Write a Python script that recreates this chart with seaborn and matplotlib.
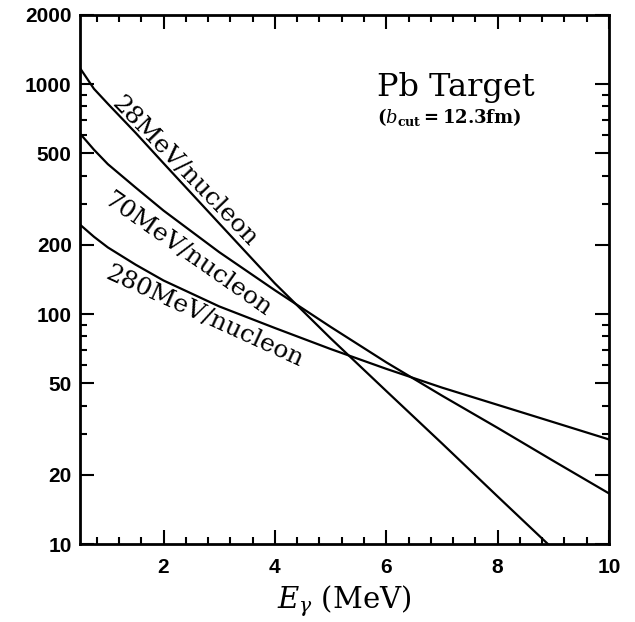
import numpy as np
import pandas as pd
import matplotlib
matplotlib.use("Agg")
import matplotlib.pyplot as plt
import matplotlib.ticker as mticker
import seaborn as sns

# ---- data ----
energy = [0.5, 0.75, 1.0, 1.5, 2.0, 3.0, 4.0, 5.0, 6.0, 7.0, 8.0, 9.0, 10.0]
n_28 = [1175, 955, 822, 614, 453, 248, 136, 78.5, 46.3, 27.4, 16.1, 9.5, 5.6]
n_70 = [610, 519, 449, 355, 282, 186, 127, 88, 61.7, 44.2, 32, 23, 16.6]
n_280 = [245, 217, 195, 164, 140, 108, 87, 70.5, 57.8, 47.9, 40.3, 33.9, 28.5]
series_names = ["28MeV/nucleon", "70MeV/nucleon", "280MeV/nucleon"]

x_major = [2, 4, 6, 8, 10]
y_major = [10, 20, 50, 100, 200, 500, 1000, 2000]

df = pd.concat([
    pd.DataFrame({"E": energy, "N": n_28, "beam": series_names[0]}),
    pd.DataFrame({"E": energy, "N": n_70, "beam": series_names[1]}),
    pd.DataFrame({"E": energy, "N": n_280, "beam": series_names[2]}),
])

sns.set_style("ticks")
plt.rcParams["font.family"] = ["DejaVu Serif", "DejaVu Sans"]
plt.rcParams["mathtext.fontset"] = "dejavuserif"
for k in ["text.color", "axes.labelcolor", "xtick.color", "ytick.color", "axes.edgecolor"]:
    plt.rcParams[k] = "black"

fig = plt.figure(figsize=(6.35, 6.22), dpi=100)
ax = fig.add_axes([0.126, 0.1254, 0.833, 0.8505])

sns.lineplot(data=df, x="E", y="N", hue="beam", palette=["black"] * 3,
             linewidth=1.6, legend=False, ax=ax, sort=False)

ax.set_yscale("log")
ax.set_xlim(0.5, 10)
ax.set_ylim(10, 2000)

ax.xaxis.set_major_locator(mticker.FixedLocator(x_major))
ax.xaxis.set_minor_locator(mticker.MultipleLocator(0.4))
ax.yaxis.set_major_locator(mticker.FixedLocator(y_major))
ax.yaxis.set_minor_locator(mticker.LogLocator(base=10, subs=[3, 4, 6, 7, 8, 9]))
ax.yaxis.set_minor_formatter(mticker.NullFormatter())
ax.set_xticklabels([str(v) for v in x_major])
ax.set_yticklabels([str(v) for v in y_major])

for lab in ax.get_xticklabels() + ax.get_yticklabels():
    lab.set_fontfamily("Liberation Sans")
    lab.set_fontweight("bold")
    lab.set_fontsize(15)

ax.tick_params(which="both", direction="in", top=True, right=True, width=1.5)
ax.tick_params(which="major", length=10)
ax.tick_params(which="minor", length=5)
ax.tick_params(axis="y", which="major", pad=6)
ax.tick_params(axis="x", which="major", pad=10)
for sp in ax.spines.values():
    sp.set_linewidth(2)
    sp.set_visible(True)

ax.set_xlabel(r"$E_{\gamma}$ (MeV)", fontsize=21, labelpad=5)
ax.set_ylabel("")

# curve labels
ax.text(2.38, 418, "28MeV/nucleon", rotation=-46, fontsize=18,
        ha="center", va="center", rotation_mode="anchor")
ax.text(2.44, 180, "70MeV/nucleon", rotation=-35, fontsize=18,
        ha="center", va="center", rotation_mode="anchor")
ax.text(2.73, 97, "280MeV/nucleon", rotation=-24.5, fontsize=18,
        ha="center", va="center", rotation_mode="anchor")

ax.text(0.71, 0.862, "Pb Target", transform=ax.transAxes, fontsize=23,
        ha="center", va="center")
ax.text(0.698, 0.807, r"$\mathbf{(}\mathit{b}_{\mathbf{cut}}\mathbf{=12.3fm)}$",
        transform=ax.transAxes, fontsize=13, ha="center", va="center")

fig.savefig("out.png", dpi=100)
